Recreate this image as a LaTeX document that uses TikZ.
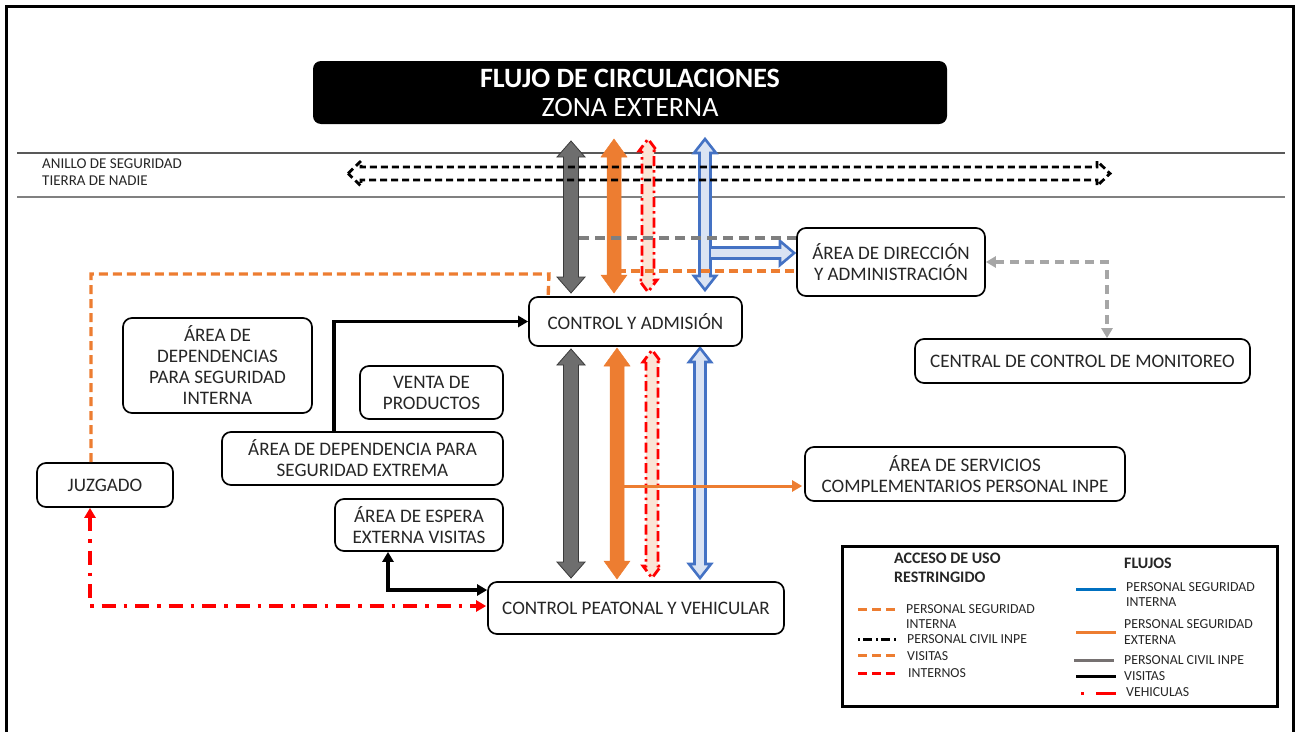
\documentclass[tikz,border=0pt]{standalone}
\usepackage{fontspec}
\setmainfont{Carlito}
\usetikzlibrary{calc,arrows.meta}
\definecolor{ora}{HTML}{ED7D31}
\definecolor{blu}{HTML}{4472C4}
\definecolor{lblu}{HTML}{DAE3F3}
\definecolor{peach}{HTML}{FBE5D6}
\definecolor{gfill}{HTML}{6E6E6E}
\definecolor{gedge}{HTML}{3A3A3A}
\definecolor{gdash}{HTML}{7F7F7F}
\definecolor{lgdash}{HTML}{A6A6A6}
\definecolor{txt}{HTML}{262626}
\definecolor{legblue}{HTML}{0070C0}
\definecolor{leggray}{HTML}{767171}
\newcommand\vdbl[7]{\path[#1] (#2-#5,#3+#7) -- (#2-#6,#3+#7) -- (#2,#3) -- (#2+#6,#3+#7) -- (#2+#5,#3+#7) -- (#2+#5,#4-#7) -- (#2+#6,#4-#7) -- (#2,#4) -- (#2-#6,#4-#7) -- (#2-#5,#4-#7) -- cycle;}
\begin{document}
\begin{tikzpicture}[x=1pt,y=-1pt,
  box/.style={draw=black, line width=1.7pt, rounded corners=9pt, fill=white, align=center, inner sep=0pt, text=txt, font=\fontsize{19.1}{21}\selectfont},
  lg/.style={anchor=west, inner sep=0pt, text=txt, font=\fontsize{13.8}{15}\selectfont},
  lgb/.style={anchor=west, inner sep=0pt, text=txt, font=\bfseries\fontsize{16}{18}\selectfont},
  grayarrow/.style={fill=gfill, draw=gedge, line width=0.8pt},
  orangearrow/.style={fill=ora, draw=ora, line width=0.5pt},
  redarrow/.style={fill=peach, draw=red, line width=2.8pt, dash pattern=on 10pt off 4pt on 2.5pt off 4pt},
  bluearrow/.style={fill=lblu, draw=blu, line width=2.6pt},
  vis/.style={draw=black, line width=3.4pt},
  veh/.style={draw=red, line width=3.4pt, dash pattern=on 14pt off 8pt on 3.5pt off 8pt},
  odash/.style={draw=ora, line width=3.4pt, dash pattern=on 9pt off 5pt},
  gdashed/.style={draw=gdash, line width=3.4pt, dash pattern=on 10pt off 6pt},
  lgdashed/.style={draw=lgdash, line width=3.4pt, dash pattern=on 9pt off 6pt},
  tip/.style={-{Triangle[length=10pt,width=11pt]}},
  tips/.style={{Triangle[length=10pt,width=11pt]}-{Triangle[length=10pt,width=11pt]}},
]
\useasboundingbox (0,0) rectangle (1297,731);
% outer frame
\draw[line width=3.5pt] (6.5,6.5) rectangle (1293.5,760);
% ring lines
\draw[line width=1.1pt, color=black!65] (17,153) -- (1285,153);
\draw[line width=1.4pt, color=black!50] (17,197) -- (1285,197);
\node[lg, font=\fontsize{15}{16}\selectfont] (anillo) at (42,164) {ANILLO DE SEGURIDAD};
\node[lg, font=\fontsize{15}{16}\selectfont] (tierra) at (42,181) {TIERRA DE NADIE};
% title
\node[fill=black, rounded corners=8pt, minimum width=634pt, minimum height=63pt, inner sep=0pt, align=center, text=white, font=\fontsize{28}{29}\selectfont] (title) at (630,92.5) {\textbf{FLUJO DE CIRCULACIONES}\\ZONA EXTERNA};

% vertical block arrows (upper)
\vdbl{grayarrow}{571}{141}{293}{7.5}{14}{16}
\vdbl{orangearrow}{614}{139}{293}{7}{13}{18}
\vdbl{redarrow}{648}{139}{292}{6}{9}{12}
\vdbl{bluearrow}{705}{139}{290}{5.5}{11}{14}
% vertical block arrows (lower)
\vdbl{grayarrow}{571}{349}{578}{7.5}{14}{16}
\vdbl{orangearrow}{617}{348}{579}{7}{13}{18}
\vdbl{redarrow}{652}{350}{578}{6}{9}{12}
\vdbl{bluearrow}{700}{348}{578}{5.5}{11}{14}

% boxes
\node[box, minimum width=213pt, minimum height=49pt] (ctrl) at (635.5,321.5) {CONTROL Y ADMISIÓN};
\node[box, minimum width=188pt, minimum height=68pt] (dir) at (891,262) {ÁREA DE DIRECCIÓN\\Y ADMINISTRACIÓN};
\node[box, minimum width=335pt, minimum height=44pt] (mon) at (1082.5,361) {CENTRAL DE CONTROL DE MONITOREO};
\node[box, minimum width=189pt, minimum height=95pt] (dsi) at (217.5,365.5) {ÁREA DE\\DEPENDENCIAS\\PARA SEGURIDAD\\INTERNA};
\node[box, minimum width=143pt, minimum height=53pt] (venta) at (431.5,392.5) {VENTA DE\\PRODUCTOS};
\node[box, minimum width=281pt, minimum height=53pt] (dse) at (362.5,458.5) {ÁREA DE DEPENDENCIA PARA\\SEGURIDAD EXTREMA};
\node[box, minimum width=136pt, minimum height=44pt] (juz) at (105,485) {JUZGADO};
\node[box, minimum width=168pt, minimum height=52pt] (esp) at (419,525) {ÁREA DE ESPERA\\EXTERNA VISITAS};
\node[box, minimum width=320pt, minimum height=54pt] (serv) at (965,474) {ÁREA DE SERVICIOS\\COMPLEMENTARIOS PERSONAL INPE};
\node[box, minimum width=296pt, minimum height=52pt] (cpv) at (636,608) {CONTROL PEATONAL Y VEHICULAR};

% blue branch to direccion
\path[bluearrow] (711,247.5) -- (780,247.5) -- (780,241) -- ($(dir.west)+(-2,-9)$) -- (780,265) -- (780,258.5) -- (711,258.5);
% gray dashed to direccion
\coordinate (gstart) at (579,238);
\draw[gdashed] (gstart) -- ($(dir.west)+(0,-24)$);
% orange dashed lines
\draw[odash] ($(juz.north)+(-14,0)$) |- (549,274) -- ($(ctrl.north west)+(20,0)$);
\coordinate (ostart) at (617,271);
\draw[odash] (ostart) -- ($(dir.west)+(0,9)$);
% horizontal dashed double block arrow (ring)
\draw[line width=2.8pt, dash pattern=on 7pt off 4pt] (348,173.5) -- (361,161) -- (361,167) -- (1097,167) -- (1097,161) -- (1110,173.5) -- (1097,186) -- (1097,180) -- (361,180) -- (361,186) -- cycle;

% light gray dashed between direccion and monitoreo
\draw[lgdashed, tips] (dir.east) -| ($(mon.north)+(24.5,0)$);
% orange to servicios
\coordinate (obr) at (624,486);
\draw[ora, line width=3pt, tip] (obr) -- ($(serv.west)+(-2,12)$);
% black visitas connectors
\draw[vis, tip] ($(dse.north)+(-28.5,0)$) |- (ctrl.west);
\draw[vis, tips] ($(esp.south)+(-31,0)$) |- ($(cpv.west)+(0,-18)$);
% red vehicle connector
\draw[veh, tips] ($(juz.south)+(-15,0)$) |- ($(cpv.west)+(-1,-2)$);

% legend
\node[draw=black, line width=3pt, minimum width=435pt, minimum height=160pt, inner sep=0pt] (legend) at (1059.5,626) {};
\node[lgb] (l1) at (894,558) {ACCESO DE USO};
\node[lgb] (l2) at (894,577) {RESTRINGIDO};
\node[lgb] (l3) at (1124,563) {FLUJOS};
\draw[ora, line width=3pt, dash pattern=on 9pt off 5pt] (858,609) -- (897,609);
\node[lg] at (906,609) {PERSONAL SEGURIDAD};
\node[lg] at (906,624) {INTERNA};
\draw[line width=3pt, dash pattern=on 2pt off 3pt on 9pt off 4pt] (858,639) -- (897,639);
\node[lg] at (907,639) {PERSONAL CIVIL INPE};
\draw[ora, line width=3pt, dash pattern=on 9pt off 5pt] (858,655) -- (897,655);
\node[lg] at (907,656) {VISITAS};
\draw[red, line width=3pt, dash pattern=on 9pt off 5pt] (858,673) -- (897,673);
\node[lg] at (908,673) {INTERNOS};
\draw[legblue, line width=3pt] (1076,589) -- (1116,589);
\node[lg] at (1126,587) {PERSONAL SEGURIDAD};
\node[lg] at (1126,602) {INTERNA};
\draw[ora, line width=3pt] (1076,632) -- (1116,632);
\node[lg] at (1124,624) {PERSONAL SEGURIDAD};
\node[lg] at (1124,640) {EXTERNA};
\draw[leggray, line width=3pt] (1074,660) -- (1114,660);
\node[lg] at (1124,660) {PERSONAL CIVIL INPE};
\draw[black, line width=3pt] (1076,676) -- (1116,676);
\node[lg] at (1124,676) {VISITAS};
\draw[red, line width=3pt] (1081,693) -- (1084,693) (1096,693) -- (1116,693);
\node[lg] at (1126,692) {VEHICULAS};
\end{tikzpicture}
\end{document}
